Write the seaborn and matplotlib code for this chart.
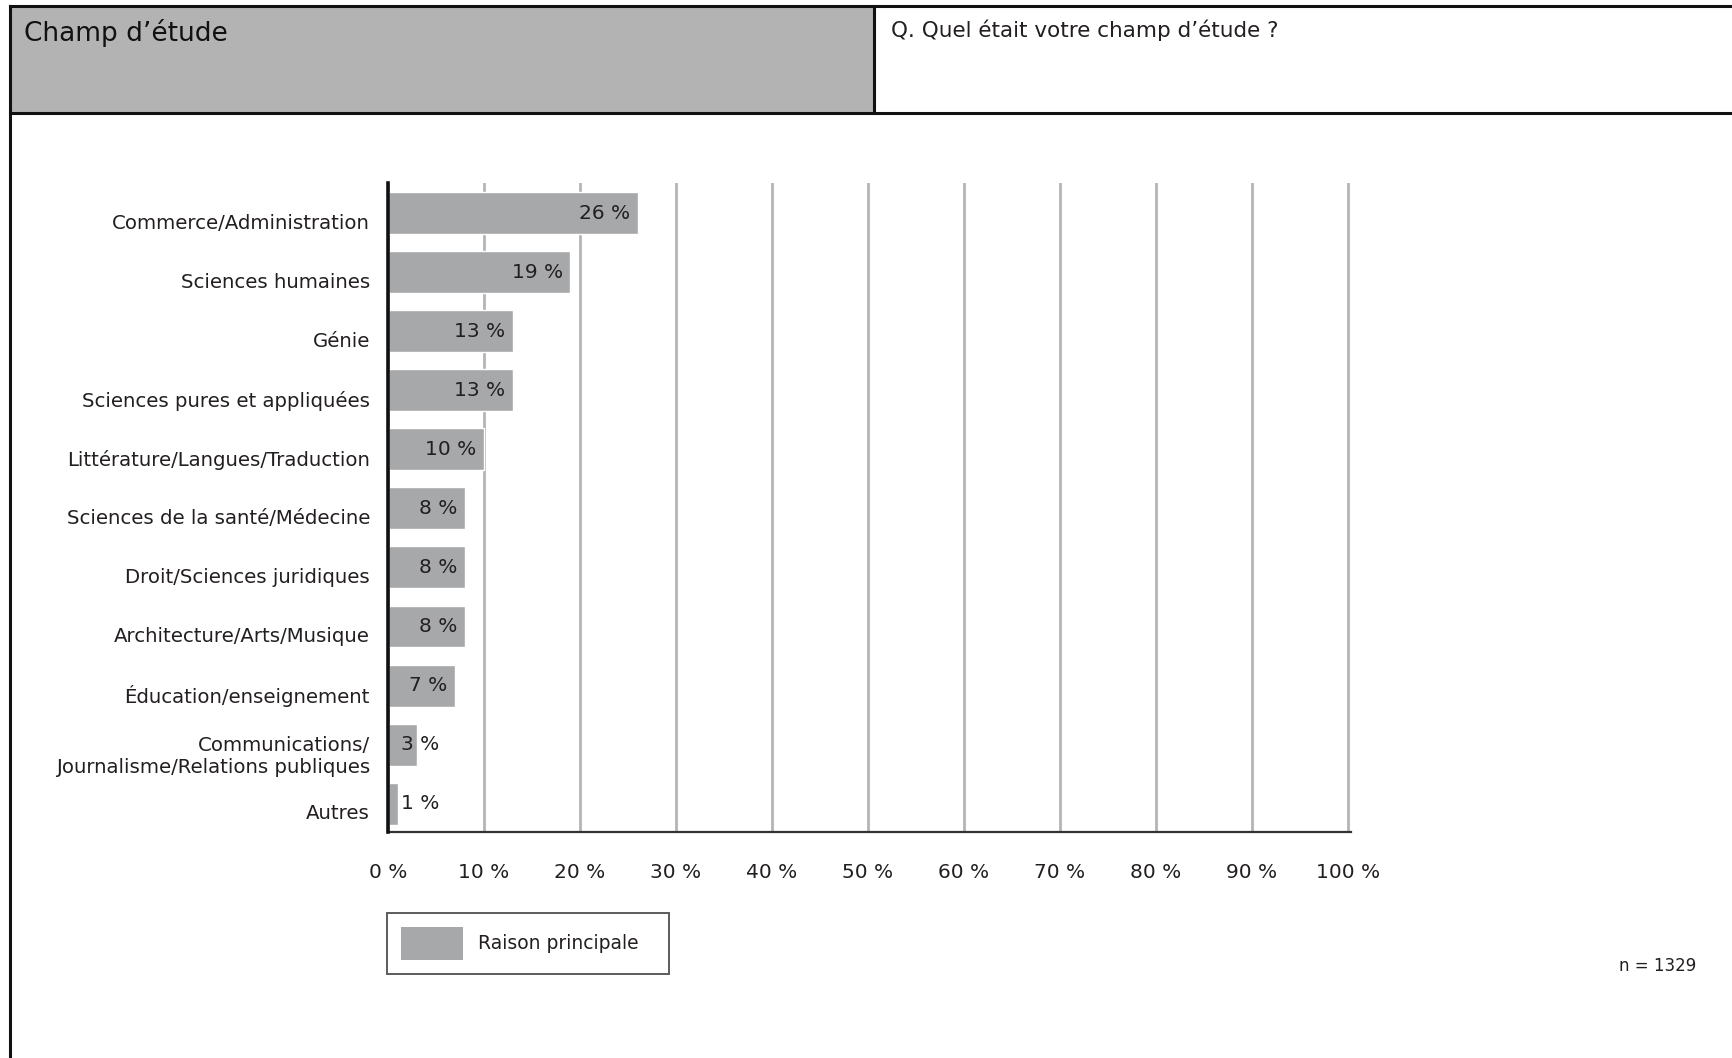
import matplotlib
matplotlib.use("Agg")
import matplotlib.pyplot as plt
import matplotlib.transforms as mtransforms
from matplotlib.patches import Rectangle, Patch
from matplotlib.lines import Line2D
import seaborn as sns
import pandas as pd

# --- data -------------------------------------------------------------
categories = [
    "Commerce/Administration",
    "Sciences humaines",
    "Génie",
    "Sciences pures et appliquées",
    "Littérature/Langues/Traduction",
    "Sciences de la santé/Médecine",
    "Droit/Sciences juridiques",
    "Architecture/Arts/Musique",
    "Éducation/enseignement",
    "Communications/\nJournalisme/Relations publiques",
    "Autres",
]
values = [26, 19, 13, 13, 10, 8, 8, 8, 7, 3, 1]
x_ticks = list(range(0, 101, 10))
x_tick_labels = [f"{t} %" for t in x_ticks]
series_name = "Raison principale"
title = "Champ d\u2019étude"
question = "Q. Quel était votre champ d\u2019étude ?"
sample_note = "n = 1329"

# --- style ------------------------------------------------------------
sns.set_theme(style="white")
plt.rcParams["font.family"] = ["DejaVu Sans"]
TEXT = "#231f20"
BAR = "#a7a8aa"
HEADER_FILL = "#b3b3b3"
GRID = "#b4b4b4"

W, H = 1732, 1058
fig = plt.figure(figsize=(W / 100, H / 100), dpi=100)
fig.patch.set_facecolor("white")


def fx(px):
    return px / W


def fy(py):
    return 1 - py / H


# --- header band ------------------------------------------------------
fig.add_artist(Rectangle((fx(10), fy(113)), fx(874) - fx(10), fy(6) - fy(113),
                         transform=fig.transFigure, facecolor=HEADER_FILL,
                         edgecolor="none", zorder=0))
lw_frame = 2.2
for (x0, y0, x1, y1) in [
    (10, 6, W, 6),        # top rule
    (10, 113, W, 113),    # bottom of header
    (874, 6, 874, 113),   # header divider
    (10, 6, 10, H),       # left rule
]:
    fig.add_artist(Line2D([fx(x0), fx(x1)], [fy(y0), fy(y1)],
                          transform=fig.transFigure, color="#111111",
                          lw=lw_frame, solid_capstyle="projecting"))

fig.text(fx(24), fy(33), title, ha="left", va="center", fontsize=19,
         color="#111111")
fig.text(fx(891), fy(30), question, ha="left", va="center", fontsize=15.5,
         color=TEXT)

# --- bar chart --------------------------------------------------------
x_max = 100.3
ax_left, ax_right = 388, 388 + 9.6 * x_max
ax_top, ax_bottom = 183, 832
ax = fig.add_axes([fx(ax_left), fy(ax_bottom),
                   fx(ax_right) - fx(ax_left), fy(ax_top) - fy(ax_bottom)])

df = pd.DataFrame({"champ": categories, "pct": values})
sns.barplot(data=df, x="pct", y="champ", orient="h", color=BAR,
            saturation=1, width=0.71, ax=ax, zorder=3)

ax.set_xlim(0, x_max)
ax.set_ylim(len(categories) - 0.52, -0.51)
ax.set_xticks(x_ticks)
ax.set_xticklabels(x_tick_labels)
ax.set_xlabel("")
ax.set_ylabel("")
ax.xaxis.grid(True, color=GRID, lw=2, zorder=0)
ax.yaxis.grid(False)
ax.set_axisbelow(True)
ax.tick_params(axis="x", length=0, pad=22, labelsize=14.5, labelcolor=TEXT)
ax.tick_params(axis="y", length=0, pad=13, labelsize=14.2, labelcolor=TEXT)

# category names sit slightly below the bar centre line
label_shift = mtransforms.ScaledTranslation(0, -6 / 72, fig.dpi_scale_trans)
for lab in ax.get_yticklabels():
    lab.set_horizontalalignment("right")
    lab.set_multialignment("right")
    lab.set_transform(lab.get_transform() + label_shift)

for side in ("top", "right"):
    ax.spines[side].set_visible(False)
ax.spines["left"].set_color("#111111")
ax.spines["left"].set_linewidth(2.6)
ax.spines["bottom"].set_color("#333333")
ax.spines["bottom"].set_linewidth(1.6)
ax.spines["left"].set_zorder(5)

# value labels: inside the bar end, with a floor for the short bars
for i, v in enumerate(values):
    ax.text(max(v - 0.8, 5.3), i, f"{v} %", ha="right", va="center",
            fontsize=14.5, color=TEXT, zorder=6)

# --- legend and sample size ------------------------------------------
handle = Patch(facecolor=BAR, edgecolor="none", label=series_name)
leg_x0, leg_x1, leg_y0, leg_y1 = 387, 669, 913, 974
leg = ax.legend(handles=[handle], loc="upper left", mode="expand",
                bbox_to_anchor=(fx(leg_x0), fy(leg_y1),
                                fx(leg_x1) - fx(leg_x0), fy(leg_y0) - fy(leg_y1)),
                bbox_transform=fig.transFigure,
                frameon=True, fancybox=False, fontsize=13.5,
                handlelength=3.3, handleheight=2.35, handletextpad=0.8,
                borderpad=0.75, borderaxespad=0)
frame = leg.get_frame()
frame.set_edgecolor("#333333")
frame.set_linewidth(1.4)
for t in leg.get_texts():
    t.set_color(TEXT)

fig.text(fx(1696), fy(966), sample_note, ha="right", va="center",
         fontsize=12, color=TEXT)

fig.savefig("out.png", dpi=100, facecolor="white")
